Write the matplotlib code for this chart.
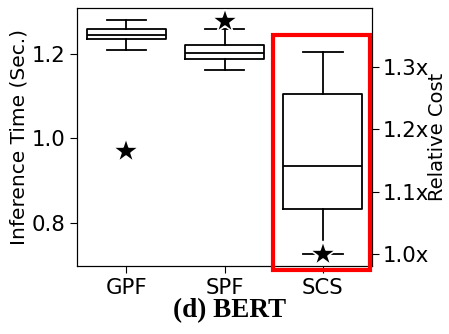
import matplotlib
matplotlib.use('Agg')
from matplotlib import pyplot as plt
from matplotlib.patches import Rectangle

# 数据：箱线图统计量
labels = ['GPF', 'SPF', 'SCS']
# 左轴（推理时间）
gpf_stats = [1.210, 1.236, 1.245, 1.261, 1.282]   # whislo, q1, med, q3, whishi
spf_stats = [1.163, 1.190, 1.202, 1.221, 1.259]
# 右轴（相对成本）
scs_stats = [1.000, 1.072, 1.141, 1.256, 1.324]
# 星号标记
star_left_x = [1, 2]
star_left_y = [0.971, 1.280]
star_right_x = [3]
star_right_y = [1.000]


def to_bxp(vals, label):
    lo, q1, med, q3, hi = vals
    return dict(whislo=lo, q1=q1, med=med, q3=q3, whishi=hi, label=label, fliers=[])


fig = plt.figure(figsize=(4.49, 3.34), dpi=100)
ax = fig.add_axes([77/449, 68/334, 295/449, 258/334])
ax2 = ax.twinx()

lw = 1.3
props = dict(boxprops=dict(linewidth=lw, color='black'),
             whiskerprops=dict(linewidth=lw, color='black'),
             capprops=dict(linewidth=lw, color='black'),
             medianprops=dict(linewidth=lw, color='black'))

ax.bxp([to_bxp(gpf_stats, labels[0]), to_bxp(spf_stats, labels[1])],
       positions=[1, 2], widths=0.8, showfliers=False, **props)
ax2.bxp([to_bxp(scs_stats, labels[2])], positions=[3], widths=0.8,
        showfliers=False, **props)

ax.plot(star_left_x, star_left_y, linestyle='none', marker='*', markersize=19,
        color='black', markeredgecolor='white', markeredgewidth=1.2, zorder=5)
ax2.plot(star_right_x, star_right_y, linestyle='none', marker='*', markersize=19,
         color='black', markeredgecolor='white', markeredgewidth=1.2, zorder=5)

ax.set_xlim(0.5, 3.5)
ax.set_xticks([1, 2, 3])
ax.set_xticklabels(labels)
ax.set_ylim(0.697, 1.31)
ax.set_yticks([0.8, 1.0, 1.2])
ax.set_yticklabels(['0.8', '1.0', '1.2'])
ax.set_ylabel('Inference Time (Sec.)', fontsize=14.5, labelpad=2)
ax.tick_params(labelsize=15.3, length=5)

ax2.set_ylim(0.981, 1.394)
ax2.set_yticks([1.0, 1.1, 1.2, 1.3])
ax2.set_yticklabels(['1.0x', '1.1x', '1.2x', '1.3x'])
ax2.set_ylabel('Relative Cost', fontsize=14, labelpad=-1)
ax2.tick_params(labelsize=15.3, length=5, pad=3)

# 红色框标出 SCS
fig.patches.append(Rectangle((273/449, (334-270)/334), 97/449, 235/334,
                             transform=fig.transFigure, fill=False,
                             edgecolor='red', linewidth=3, zorder=10))

fig.text(230/449, 1 - 311/334, '(d) BERT', ha='center', va='center',
         fontsize=19.5, fontweight='bold', family='Liberation Serif')

fig.savefig('out.png', dpi=100)
